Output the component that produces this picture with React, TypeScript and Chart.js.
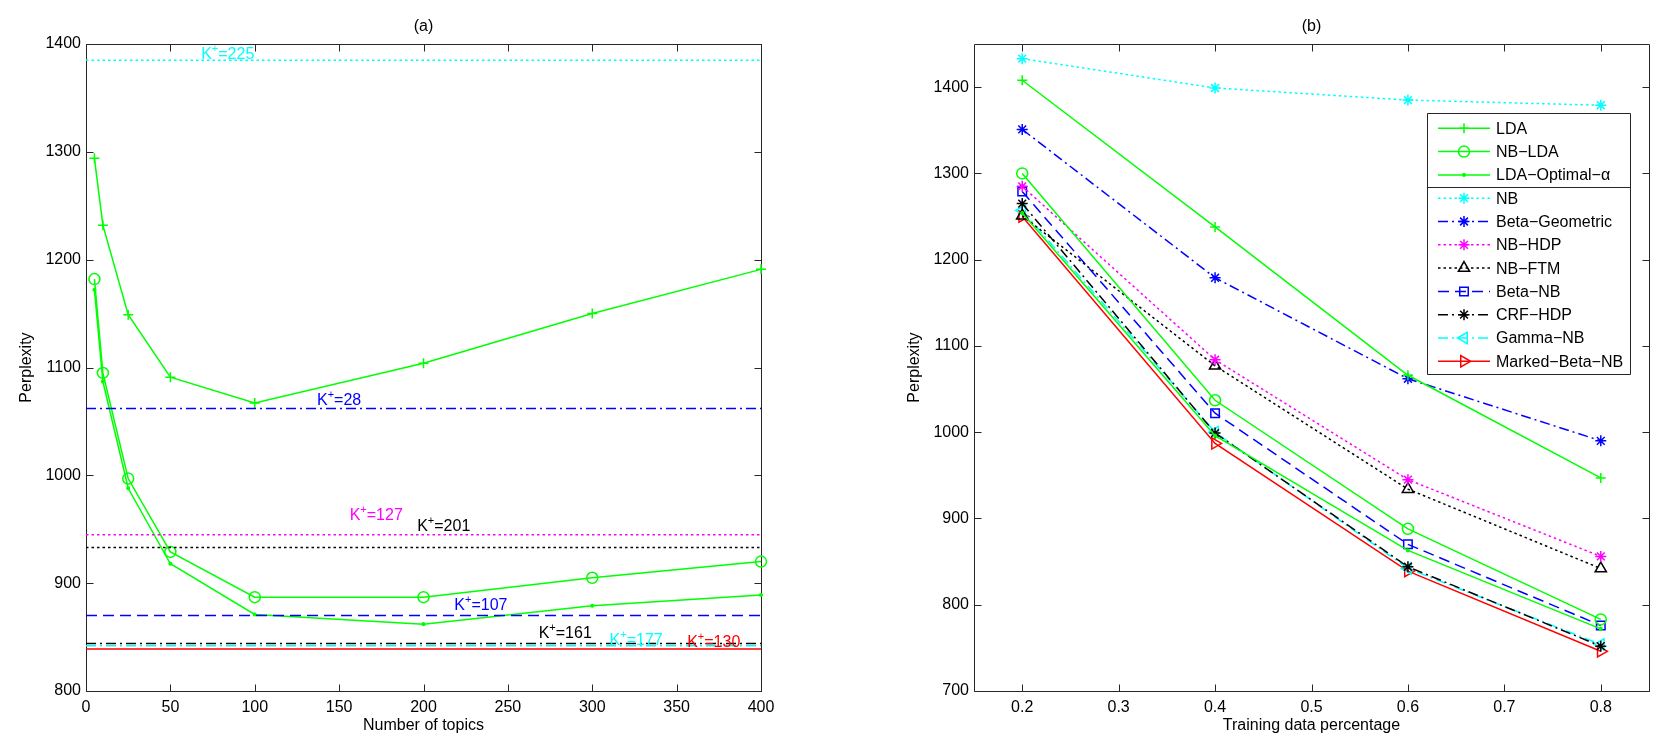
import React, { useEffect, useRef } from "react";
import { Chart, registerables, Plugin } from "chart.js";
import { drawPoint } from "chart.js/helpers";

Chart.register(...registerables);

// ---- (a) perplexity vs number of topics ----
const topicCounts = [5, 10, 25, 50, 100, 200, 300, 400];
const ldaByTopics = [1294, 1232, 1149, 1091, 1067, 1104, 1150, 1191];
const nbLdaByTopics = [1182, 1095, 997, 929, 887, 887, 905, 920];
const ldaOptByTopics = [1172, 1087, 988, 918, 871, 862, 879, 889];

// nonparametric models: final perplexity and inferred number of topics K+
const npModels = ["NB", "Beta-Geometric", "NB-HDP", "NB-FTM", "Beta-NB", "CRF-HDP", "Gamma-NB", "Marked-Beta-NB"];
const npPerplexity = [1385, 1062, 945, 933, 870, 844, 842, 839];
const npActiveTopics = [225, 28, 127, 201, 107, 161, 177, 130];
// where each K+ tag is written (data units: topics, perplexity baseline)
const tagTopics = [84, 150, 172, 212, 234, 284, 326, 372];
const tagPerplexity = [1386, 1065, 959, 948, 875, 849, 843, 841];

const topicTicks = [0, 50, 100, 150, 200, 250, 300, 350, 400];
const perplexityTicksA = [800, 900, 1000, 1100, 1200, 1300, 1400];

// ---- (b) perplexity vs training data percentage ----
const trainFractions = [0.2, 0.4, 0.6, 0.8];
const ldaByTrain = [1408, 1238, 1066, 947];
const nbLdaByTrain = [1300, 1037, 888, 783];
const ldaOptByTrain = [1254, 996, 863, 772];
const nbByTrain = [1433, 1399, 1385, 1379];
const betaGeoByTrain = [1351, 1179, 1062, 990];
const nbHdpByTrain = [1285, 1084, 945, 856];
const nbFtmByTrain = [1251, 1077, 934, 842];
const betaNbByTrain = [1279, 1022, 870, 776];
const crfHdpByTrain = [1265, 999, 844, 752];
const gammaNbByTrain = [1257, 1000, 842, 754];
const markedByTrain = [1250, 987, 839, 746];

const fractionTicks = [0.2, 0.3, 0.4, 0.5, 0.6, 0.7, 0.8];
const perplexityTicksB = [700, 800, 900, 1000, 1100, 1200, 1300, 1400];

// ---- styling ----
const FONT_FAMILY = '"Liberation Sans", Arial, Helvetica, sans-serif';
const AXIS = "#262626";
const GREEN = "#00ff00";
const CYAN = "#00ffff";
const BLUE = "#0000ff";
const MAGENTA = "#ff00ff";
const BLACK = "#000000";
const RED = "#ff0000";

const DOTTED = [2.5, 3];
const DASHDOT = [10, 4, 2, 4];
const DASHED = [11, 6];

type Style = { color: string; dash: number[]; point: any; r: number; rot?: number; fill?: boolean };

const styles: Record<string, Style> = {
  "LDA": { color: GREEN, dash: [], point: "cross", r: 5 },
  "NB-LDA": { color: GREEN, dash: [], point: "circle", r: 5.5 },
  "LDA-Optimal-α": { color: GREEN, dash: [], point: "circle", r: 1.3, fill: true },
  "NB": { color: CYAN, dash: DOTTED, point: "star", r: 5.5 },
  "Beta-Geometric": { color: BLUE, dash: DASHDOT, point: "star", r: 5.5 },
  "NB-HDP": { color: MAGENTA, dash: DOTTED, point: "star", r: 5.5 },
  "NB-FTM": { color: BLACK, dash: DOTTED, point: "triangle", r: 6.5 },
  "Beta-NB": { color: BLUE, dash: DASHED, point: "rect", r: 6 },
  "CRF-HDP": { color: BLACK, dash: DASHDOT, point: "star", r: 5.5 },
  "Gamma-NB": { color: CYAN, dash: DASHDOT, point: "triangle", r: 6.5, rot: -90 },
  "Marked-Beta-NB": { color: RED, dash: [], point: "triangle", r: 6.5, rot: 90 },
};

function lineDataset(label: string, xs: number[], ys: number[], st: Style, markers = true) {
  return {
    label,
    data: xs.map((x, i) => ({ x, y: ys[i] })),
    borderColor: st.color,
    borderWidth: 1.5,
    borderDash: st.dash,
    pointStyle: st.point,
    pointRadius: markers ? st.r : 0,
    pointHoverRadius: markers ? st.r : 0,
    pointRotation: st.rot ?? 0,
    pointBorderColor: st.color,
    pointBackgroundColor: st.fill ? st.color : "rgba(0,0,0,0)",
    pointBorderWidth: 1.5,
    tension: 0,
    fill: false,
    clip: false as any,
  };
}

function axis(min: number, max: number, ticks: number[], title: string, isY: boolean, fmt: (v: number) => string) {
  return {
    type: "linear" as const,
    min,
    max,
    grid: { display: false, drawTicks: false },
    border: { display: false },
    afterBuildTicks: (s: any) => {
      s.ticks = ticks.map((v) => ({ value: v }));
    },
    afterFit: (s: any) => {
      if (isY) s.width = 86;
      else s.height = 48;
    },
    ticks: {
      autoSkip: false,
      maxRotation: 0,
      padding: isY ? 5 : 7,
      color: "#000",
      font: { size: 16 },
      callback: (v: any) => fmt(Number(v)),
    },
    title: {
      display: true,
      text: title,
      color: "#000",
      font: { size: 16 },
      padding: isY ? { top: 17, bottom: 0 } : { top: 0, bottom: 4 },
    },
  };
}

// MATLAB-like box with inward ticks on all four sides
const matlabBox: Plugin = {
  id: "matlabBox",
  beforeDatasetsDraw(chart) {
    const { ctx, chartArea: a, scales } = chart;
    const L = Math.round(a.left) + 0.5;
    const R = Math.round(a.right) + 0.5;
    const T = Math.round(a.top) + 0.5;
    const B = Math.round(a.bottom) + 0.5;
    ctx.save();
    ctx.strokeStyle = AXIS;
    ctx.lineWidth = 1;
    ctx.setLineDash([]);
    ctx.beginPath();
    ctx.rect(L, T, R - L, B - T);
    for (const t of scales.x.ticks) {
      const px = Math.round(scales.x.getPixelForValue(t.value)) + 0.5;
      ctx.moveTo(px, B);
      ctx.lineTo(px, B - 7);
      ctx.moveTo(px, T);
      ctx.lineTo(px, T + 7);
    }
    for (const t of scales.y.ticks) {
      const py = Math.round(scales.y.getPixelForValue(t.value)) + 0.5;
      ctx.moveTo(L, py);
      ctx.lineTo(L + 7, py);
      ctx.moveTo(R, py);
      ctx.lineTo(R - 7, py);
    }
    ctx.stroke();
    ctx.restore();
  },
};

// K+ tags next to the horizontal reference lines of panel (a)
const kTags: Plugin = {
  id: "kTags",
  afterDatasetsDraw(chart) {
    const { ctx, scales } = chart;
    const big = `16px ${FONT_FAMILY}`;
    const small = `11px ${FONT_FAMILY}`;
    ctx.save();
    ctx.textBaseline = "alphabetic";
    ctx.textAlign = "left";
    npModels.forEach((name, i) => {
      const rest = "=" + npActiveTopics[i];
      ctx.font = big;
      const wK = ctx.measureText("K").width;
      const wRest = ctx.measureText(rest).width;
      ctx.font = small;
      const wPlus = ctx.measureText("+").width;
      const total = wK + wPlus + wRest;
      const cx = scales.x.getPixelForValue(tagTopics[i]);
      const by = scales.y.getPixelForValue(tagPerplexity[i]);
      let x = cx - total / 2;
      ctx.fillStyle = styles[name].color;
      ctx.font = big;
      ctx.fillText("K", x, by);
      x += wK;
      ctx.font = small;
      ctx.fillText("+", x, by - 7);
      x += wPlus;
      ctx.font = big;
      ctx.fillText(rest, x, by);
    });
    ctx.restore();
  },
};

// legend drawn inside the axes, with a rule under the parametric models
const insetLegend: Plugin = {
  id: "insetLegend",
  afterDraw(chart) {
    const { ctx, chartArea: a } = chart;
    const sets = chart.data.datasets as any[];
    const labels = sets.map((d) => String(d.label).replace(/-/g, "\u2212"));
    ctx.save();
    ctx.font = `16px ${FONT_FAMILY}`;
    const textW = Math.max(...labels.map((t) => ctx.measureText(t).width));
    const rowH = 23.3;
    const padL = 11;
    const lineLen = 52;
    const gap = 6;
    const w = Math.round(padL + lineLen + gap + textW + 7);
    const h = Math.round(15.3 + rowH * (sets.length - 1) + 13);
    const right = Math.round(a.right - 19);
    const left = right - w;
    const top = Math.round(a.top + 69);

    ctx.fillStyle = "#fff";
    ctx.fillRect(left, top, w, h);

    sets.forEach((d, i) => {
      const y = top + 15.3 + rowH * i;
      const x0 = left + padL;
      ctx.strokeStyle = d.borderColor;
      ctx.lineWidth = 1.5;
      ctx.setLineDash(d.borderDash || []);
      ctx.beginPath();
      ctx.moveTo(x0, y);
      ctx.lineTo(x0 + lineLen, y);
      ctx.stroke();
      ctx.setLineDash([]);
      ctx.fillStyle = d.pointBackgroundColor;
      drawPoint(
        ctx,
        { pointStyle: d.pointStyle, rotation: d.pointRotation, radius: d.pointRadius, borderWidth: 1.5 } as any,
        x0 + lineLen / 2,
        y
      );
      ctx.fillStyle = "#000";
      ctx.textBaseline = "middle";
      ctx.textAlign = "left";
      ctx.fillText(labels[i], x0 + lineLen + gap, y + 1);
    });

    ctx.strokeStyle = AXIS;
    ctx.lineWidth = 1;
    ctx.setLineDash([]);
    ctx.beginPath();
    ctx.rect(left + 0.5, top + 0.5, w, h);
    const sepY = Math.round(top + 15.3 + rowH * 2.5) + 0.5;
    ctx.moveTo(left + 0.5, sepY);
    ctx.lineTo(left + w + 0.5, sepY);
    ctx.stroke();
    ctx.restore();
  },
};

function commonOptions(title: string, padLeft: number, padRight: number) {
  return {
    responsive: true,
    maintainAspectRatio: false,
    animation: false as const,
    events: [] as any[],
    layout: { padding: { left: padLeft, right: padRight, top: 16.8, bottom: 0 } },
    plugins: {
      legend: { display: false },
      tooltip: { enabled: false },
      title: {
        display: true,
        text: title,
        fullSize: false,
        color: "#000",
        font: { size: 16, weight: "normal" as const },
        padding: { top: 0, bottom: 8 },
      },
    },
  };
}

function buildTopicsChart(): any {
  const xEnds = [topicTicks[0], topicTicks[topicTicks.length - 1]];
  const refLines = npModels.map((name, i) =>
    lineDataset(name, xEnds, [npPerplexity[i], npPerplexity[i]], styles[name], false)
  );
  return {
    type: "line",
    data: {
      datasets: [
        ...refLines,
        lineDataset("LDA", topicCounts, ldaByTopics, styles["LDA"]),
        lineDataset("NB-LDA", topicCounts, nbLdaByTopics, styles["NB-LDA"]),
        lineDataset("LDA-Optimal-α", topicCounts, ldaOptByTopics, styles["LDA-Optimal-α"]),
      ],
    },
    options: {
      ...commonOptions("(a)", 0, 69),
      scales: {
        x: axis(0, 400, topicTicks, "Number of topics", false, (v) => String(v)),
        y: axis(800, 1400, perplexityTicksA, "Perplexity", true, (v) => String(v)),
      },
    },
    plugins: [matlabBox, kTags],
  };
}

function buildTrainChart(): any {
  const series: [string, number[]][] = [
    ["LDA", ldaByTrain],
    ["NB-LDA", nbLdaByTrain],
    ["LDA-Optimal-α", ldaOptByTrain],
    ["NB", nbByTrain],
    ["Beta-Geometric", betaGeoByTrain],
    ["NB-HDP", nbHdpByTrain],
    ["NB-FTM", nbFtmByTrain],
    ["Beta-NB", betaNbByTrain],
    ["CRF-HDP", crfHdpByTrain],
    ["Gamma-NB", gammaNbByTrain],
    ["Marked-Beta-NB", markedByTrain],
  ];
  return {
    type: "line",
    data: {
      datasets: series.map(([name, ys]) => lineDataset(name, trainFractions, ys, styles[name])),
    },
    options: {
      ...commonOptions("(b)", 58, 12),
      scales: {
        x: axis(0.15, 0.85, fractionTicks, "Training data percentage", false, (v) => v.toFixed(1)),
        y: axis(700, 1450, perplexityTicksB, "Perplexity", true, (v) => String(Math.round(v))),
      },
    },
    plugins: [matlabBox, insetLegend],
  };
}

function ChartPanel({ build, left, width }: { build: () => any; left: number; width: number }) {
  const canvasRef = useRef<HTMLCanvasElement>(null);

  useEffect(() => {
    if (!canvasRef.current) return;
    Chart.defaults.font.family = FONT_FAMILY;
    Chart.defaults.color = "#000";
    const chart = new Chart(canvasRef.current, build());
    return () => chart.destroy();
  }, [build]);

  return (
    <div style={{ position: "absolute", left, top: 0, width, height: 739 }}>
      <canvas ref={canvasRef} />
    </div>
  );
}

export default function App() {
  useEffect(() => {
    document.body.style.margin = "0";
  }, []);

  return (
    <div style={{ position: "relative", width: 1661, height: 739, background: "#fff", overflow: "hidden" }}>
      <ChartPanel build={buildTopicsChart} left={0} width={830} />
      <ChartPanel build={buildTrainChart} left={830} width={831} />
    </div>
  );
}
